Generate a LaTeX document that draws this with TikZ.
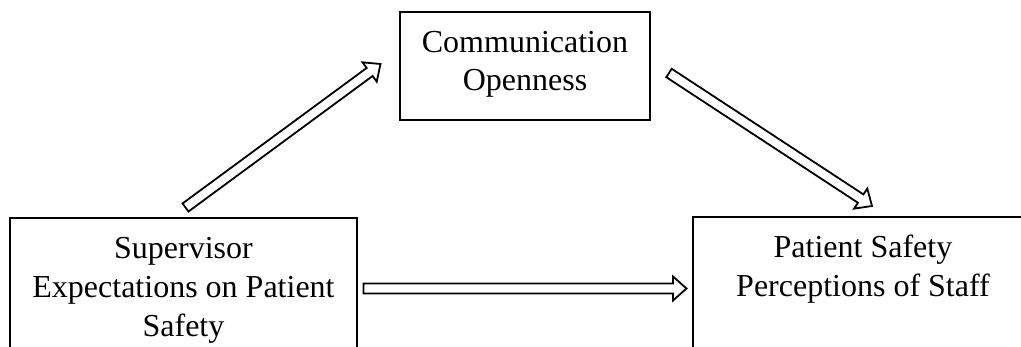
\documentclass[tikz,border=0pt]{standalone}
\usepackage{fontspec}
\setmainfont{Liberation Serif}
\usetikzlibrary{calc}
\tikzset{
  boxnode/.style={draw=black, line width=2pt, inner sep=0pt, outer sep=0pt, fill=none},
  label32/.style={font=\fontsize{32}{39}\selectfont, inner sep=0pt, anchor=base},
  arr/.style={draw=black, line width=1.8pt, fill=white, line join=miter},
}
\newcommand\hollowarrow[2]{%
  \path ($(#2)!13.5pt!(#1)$) coordinate (hb);
  \draw[arr] ($(#1)!5pt!90:(#2)$) -- ($(hb)!5pt!90:(#2)$) -- ($(hb)!12pt!90:(#2)$)
    -- (#2) -- ($(hb)!12pt!-90:(#2)$) -- ($(hb)!5pt!-90:(#2)$) -- ($(#1)!5pt!-90:(#2)$) -- cycle;
}
\begin{document}
\begin{tikzpicture}[x=1pt, y=-1pt]
  \useasboundingbox (0,0) rectangle (1021,347);
  \clip (0,0) rectangle (1021,347);
  \fill[white] (0,0) rectangle (1021,347);
  % boxes
  \node[boxnode, minimum width=347pt, minimum height=250pt, anchor=north west] (sup) at (10,218) {};
  \node[boxnode, minimum width=250pt, minimum height=108pt, anchor=north west] (com) at (400,12) {};
  \node[boxnode, minimum width=340pt, minimum height=250pt, anchor=north west] (pat) at (693,217) {};
  % texts
  \node[label32] (sup1) at (183.5,259) {Supervisor};
  \node[label32] (sup2) at (183.5,298) {Expectations on Patient};
  \node[label32] (sup3) at (183.5,337) {Safety};
  \node[label32] (com1) at (525,53) {Communication};
  \node[label32] (com2) at (525,91) {Openness};
  \node[label32] (pat1) at (863,258) {Patient Safety};
  \node[label32] (pat2) at (863,297) {Perceptions of Staff};
  % arrow end points
  \coordinate (a1s) at ($(sup.north)+(2,-10.5)$);
  \coordinate (a1e) at ($(com.west)+(-19.5,-2)$);
  \coordinate (a2s) at ($(com.east)+(19,7)$);
  \coordinate (a2e) at ($(pat.north west)+(179,-11)$);
  \coordinate (a3s) at ($(sup.north east)+(6.5,70.5)$);
  \coordinate (a3e) at ($(pat.north west)+(-6.5,71.5)$);
  \hollowarrow{a1s}{a1e}
  \hollowarrow{a2s}{a2e}
  \hollowarrow{a3s}{a3e}
\end{tikzpicture}
\end{document}
